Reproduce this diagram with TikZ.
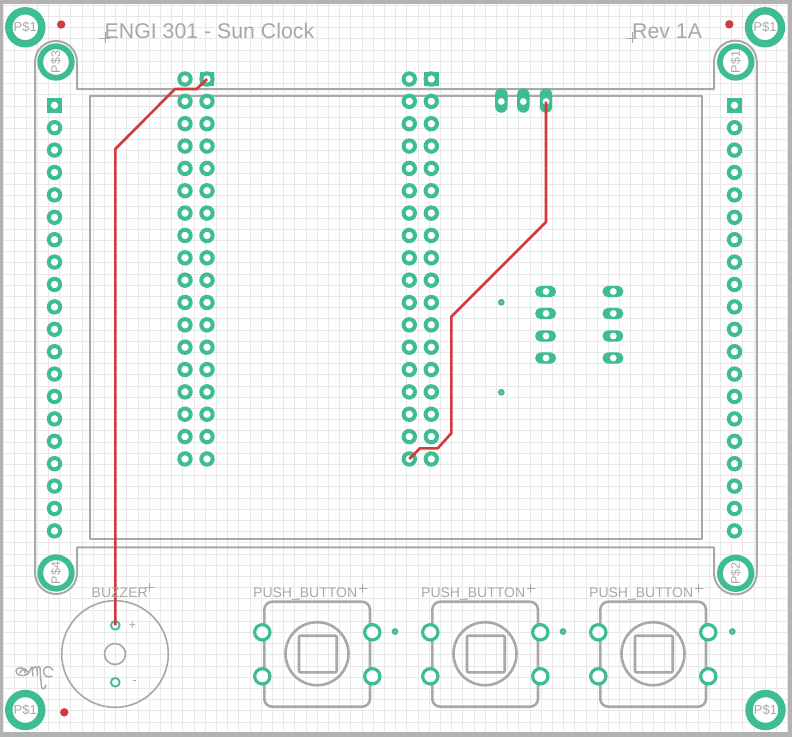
\documentclass[tikz,border=0pt]{standalone}
\usepackage{fontspec}
\setmainfont{Liberation Sans}
\definecolor{padg}{RGB}{62,189,145}
\definecolor{silk}{RGB}{168,168,168}
\definecolor{gridc}{RGB}{232,232,232}
\definecolor{framec}{RGB}{178,178,178}
\definecolor{trace}{RGB}{211,56,62}
\tikzset{
  outline/.style={draw=silk,line width=2pt,line join=round},
  silkthick/.style={draw=silk,line width=2.6pt,line join=round},
  wire/.style={draw=trace,line width=2.6pt,line join=round},
  ring/.style={circle,draw=padg,fill=white,inner sep=0pt,minimum size=#1},
  lab/.style={text=silk,inner sep=0pt,font=\fontsize{#1}{#1}\selectfont},
  cross/.style={draw=silk,line width=.8pt},
}
\begin{document}
\begin{tikzpicture}[x=1pt,y=-1pt]
\useasboundingbox (0,0) rectangle (792,737);
\fill[white] (0,0) rectangle (792,737);
% grid
\foreach \k in {0,...,70} \draw[gridc,line width=.9pt] ({3.6+11.2*\k},0) -- ({3.6+11.2*\k},737);
\foreach \k in {0,...,65} \draw[gridc,line width=.9pt] (0,{5.2+11.2*\k}) -- (792,{5.2+11.2*\k});
% frame
\fill[framec] (0,0) rectangle (792,4);
\fill[framec] (0,0) rectangle (3,737);
\fill[framec] (788,0) rectangle (792,737);
\fill[framec] (0,732) rectangle (792,737);
% board outlines
\draw[outline] (77,89) -- (714,89) -- (714,62) arc[start angle=180,end angle=360,radius=21.4] -- (756.8,573)
  arc[start angle=0,end angle=180,radius=21.4] -- (714,547.3) -- (77,547.3) -- (77,573)
  arc[start angle=0,end angle=180,radius=21] -- (35,62)
  arc[start angle=180,end angle=360,radius=21] -- cycle;
\draw[outline] (90,96) rectangle (702,539);
% buzzer
\draw[draw=silk,line width=1.6pt] (115,654) circle[radius=53.3];
\draw[draw=silk,line width=1.6pt] (115,654) circle[radius=10.5];
% buttons
\foreach \o in {0,168,336}{
  \begin{scope}[xshift=\o pt]
    \draw[silkthick,rounded corners=8pt] (264.3,601.7) rectangle (370,706.7);
    \draw[silkthick] (317,653.7) circle[radius=31.5];
    \draw[silkthick,rounded corners=1pt] (299,635.7) rectangle (336.7,672.3);
    \foreach \x in {262.3,372.3}\foreach \y in {632.3,676.3}
      \node[ring=15.3pt,line width=3.2pt] at (\x,\y) {};
  \end{scope}
}
% big mounting rings
\foreach \n/\x/\y in {a/25.3/27.3,b/765/27.3,c/25.3/710,d/765.5/710}
  \node[ring=33pt,line width=7.4pt] (m\n) at (\x,\y) {};
\foreach \n/\x/\y in {e/56/62,f/735.7/62,g/56/573,h/735.7/573.3}
  \node[ring=31.5pt,line width=5.8pt] (m\n) at (\x,\y) {};
% side headers
\foreach \i in {0,...,19}{
  \foreach \x/\s in {54.5/L,734.5/R}{
    \ifnum\i=0
      \fill[padg] (\x-7.4,105.3-7.4) rectangle (\x+7.4,105.3+7.4);
      \fill[white] (\x,105.3) circle[radius=3.6];
    \else
      \node[ring=11.4pt,line width=4pt] at (\x,{105.3+22.4*\i}) {};
    \fi
    \coordinate (\s\i) at (\x,{105.3+22.4*\i});
  }
}
% centre headers
\foreach \i in {0,...,17}{
  \foreach \x/\s in {185/A,207/B,409.3/C,431.3/D}{
    \coordinate (\s\i) at (\x,{79+22.35*\i});
    \node[ring=11.4pt,line width=4pt] at (\s\i) {};
  }
}
\foreach \x in {207,431.3}{
  \fill[padg] (\x-7.4,79-7.4) rectangle (\x+7.4,79+7.4);
  \fill[white] (\x,79) circle[radius=3.6];
}
% vertical oblong pads
\foreach \n/\x in {1/501.3,2/523.3,3/546}{
  \coordinate (V\n) at (\x,101.5);
  \fill[padg,rounded corners=6pt] (\x-6.2,88.3) rectangle (\x+6.2,112.7);
  \fill[white] (\x,101.5) circle[radius=3.4];
}
% horizontal oblong pads
\foreach \y in {291.5,313.5,336,358}{
  \foreach \x in {546,613.3}{
    \fill[padg,rounded corners=5.3pt] (\x-10.8,\y-5.6) rectangle (\x+10,\y+5.6);
    \fill[white] (\x,\y) circle[radius=3.4];
  }
}
% small vias
\foreach \x/\y in {501.3/302.3,501.3/392.3,395/631.5,563/631.5,732.3/631.5}{
  \fill[padg] (\x,\y) circle[radius=3.4];
  \fill[silk] (\x,\y) circle[radius=1.3];
}
% buzzer pads
\node[ring=8.7pt,line width=1.8pt] (bp) at (115.3,625.3) {};
\node[ring=8.7pt,line width=1.8pt] (bm) at (115.3,682.3) {};
% traces
\draw[wire] (B0) -- (196.7,89) -- (175,89) -- (115.3,149) -- (bp.center);
\draw[wire] (V3) -- (546,222) -- (451.3,316.7) -- (451.3,433.3) -- (437.7,448.3) -- (420,448.3) -- (C17);
% red dots
\foreach \x/\y in {61.2/24.5,729.3/24.3,64.3/712.3}
  \fill[trace] (\x,\y) circle[radius=4.2];
% ring labels
\foreach \n in {a,b,c,d}
  \node[lab=13] at (m\n) {P\$1};
\node[lab=12.5,rotate=90] at (me) {P\$3};
\node[lab=12.5,rotate=90] at (mf) {P\$1};
\node[lab=12.5,rotate=90] at (mg) {P\$4};
\node[lab=12.5,rotate=90] at (mh) {P\$2};
% titles
\node[lab=21.3,anchor=base west] (t1) at (104.5,38) {ENGI 301 - Sun Clock};
\node[lab=21.3,anchor=base west] (t2) at (632,38) {Rev 1A};
\draw[cross] (99,38) -- (110,38) (105,32) -- (105,43);
\draw[cross] (626,38) -- (637,38) (632,32) -- (632,43);
% component labels
\node[lab=14,anchor=base west] (bz) at (91.5,597) {BUZZER};
\draw[cross] (145,587.5) -- (154,587.5) (149.5,583) -- (149.5,592);
\node[lab=13,anchor=center] (plus) at (132.5,625.5) {+};
\node[lab=13,anchor=center] (minus) at (134.5,683) {-};
\foreach \o/\n in {0/a,168/b,336/c}{
  \node[lab=14,anchor=base west] (pb\n) at ({253+\o},597) {PUSH\_BUTTON};
  \draw[cross] ({358.5+\o},588) -- ({367+\o},588) ({362.7+\o},583.5) -- ({362.7+\o},592.5);
}
% signature
\draw[silk,line width=1.4pt,line cap=round,line join=round]
  (28,672) .. controls (24,666) and (16,667) .. (16,671) .. controls (16,676) and (24,677) .. (27,674)
  (20,673) .. controls (21,668) and (26,669) .. (25,673)
  (26,675) .. controls (29,675) and (31,667) .. (32,667) -- (33,676)
  (33,669) .. controls (34,666) and (36,666) .. (37,668) -- (37.5,676)
  (37,668) .. controls (38,666) and (39.5,666) .. (40,668) -- (41.3,686) .. controls (42,690) and (45,690) .. (46,685)
  (53,670) .. controls (50,665) and (44,666) .. (43.5,671) .. controls (43.5,677) and (49,678) .. (52,676);
\end{tikzpicture}
\end{document}
